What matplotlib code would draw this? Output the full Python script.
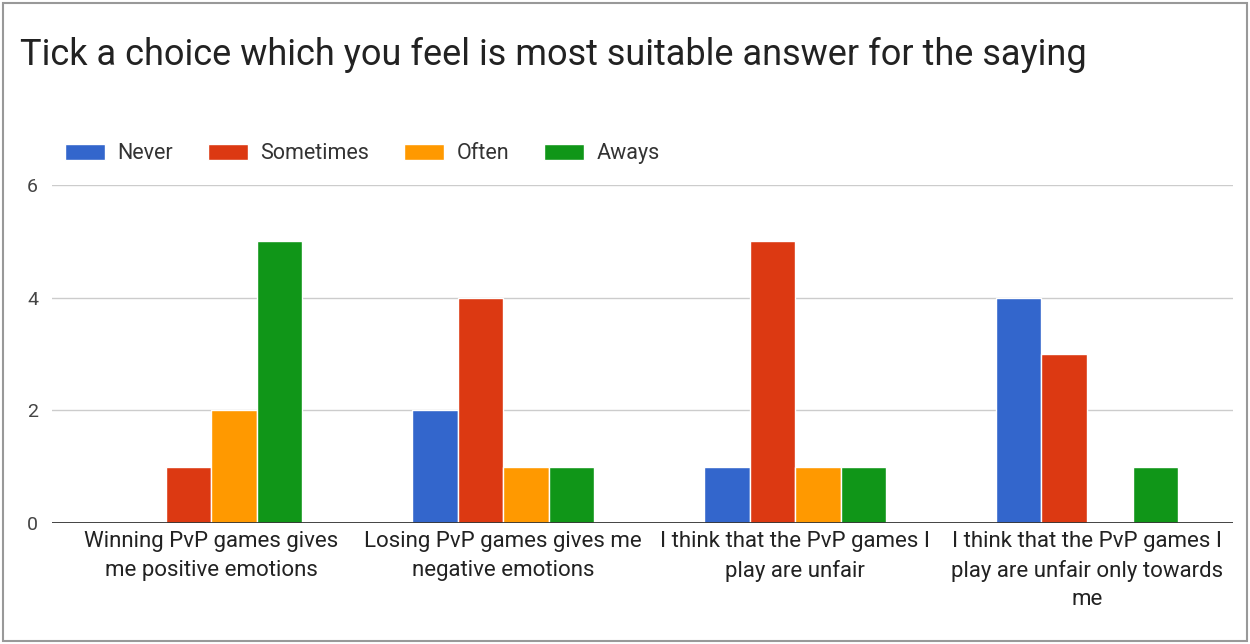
import numpy as np
import matplotlib.pyplot as plt
from matplotlib.patches import Rectangle

plt.rcParams['font.family'] = ['Roboto', 'DejaVu Sans']

categories = [
    "Winning PvP games gives\nme positive emotions",
    "Losing PvP games gives me\nnegative emotions",
    "I think that the PvP games I\nplay are unfair",
    "I think that the PvP games I\nplay are unfair only towards\nme",
]
series = ["Never", "Sometimes", "Often", "Aways"]
never = [0, 2, 1, 4]
sometimes = [1, 4, 5, 3]
often = [2, 1, 1, 0]
aways = [5, 1, 1, 1]
colors = ["#3366cc", "#dc3912", "#ff9900", "#109618"]
yticks = [0, 2, 4, 6]

W, H = 1250, 644
fig = plt.figure(figsize=(W / 100, H / 100), dpi=100)
ax = fig.add_axes([52 / W, 1 - 523 / H, (1233 - 52) / W, (523 - 185) / H])

x = np.arange(len(categories))
bw = 0.156
for i, (name, vals) in enumerate(zip(series, [never, sometimes, often, aways])):
    ax.bar(x + (i - 1.5) * bw, vals, bw, color=colors[i], label=name,
           edgecolor="white", linewidth=1, zorder=3)

ax.set_xlim(-0.545, 3.5)
ax.set_ylim(0, 6)
ax.set_yticks(yticks)
ax.set_yticklabels([str(v) for v in yticks], fontsize=14, color="#444444")
ax.yaxis.grid(True, color="#cccccc", linewidth=1, zorder=0)
ax.axhline(0, color="#333333", linewidth=2, zorder=4)
ax.tick_params(axis="y", length=0, pad=10)
ax.tick_params(axis="x", length=0, pad=6)
ax.set_xticks(x)
ax.set_xticklabels(categories, fontsize=16, color="#222222", linespacing=1.45)
for s in ax.spines.values():
    s.set_visible(False)

fig.text(20 / W, 1 - 55 / H, "Tick a choice which you feel is most suitable answer for the saying",
         fontsize=26, color="#222222", va="center", ha="left")

fig.legend(loc="center left", bbox_to_anchor=(46 / W, 1 - 154 / H), ncol=4,
           frameon=False, fontsize=15.5, labelcolor="#333333",
           handlelength=1.86, handleheight=0.8, handletextpad=0.56, columnspacing=1.63)

fig.add_artist(Rectangle((3 / W, 3 / H), (W - 6) / W, (H - 6) / H, transform=fig.transFigure,
                         fill=False, edgecolor="#999999", linewidth=1.5))

fig.savefig("out.png", dpi=100, facecolor="white")
